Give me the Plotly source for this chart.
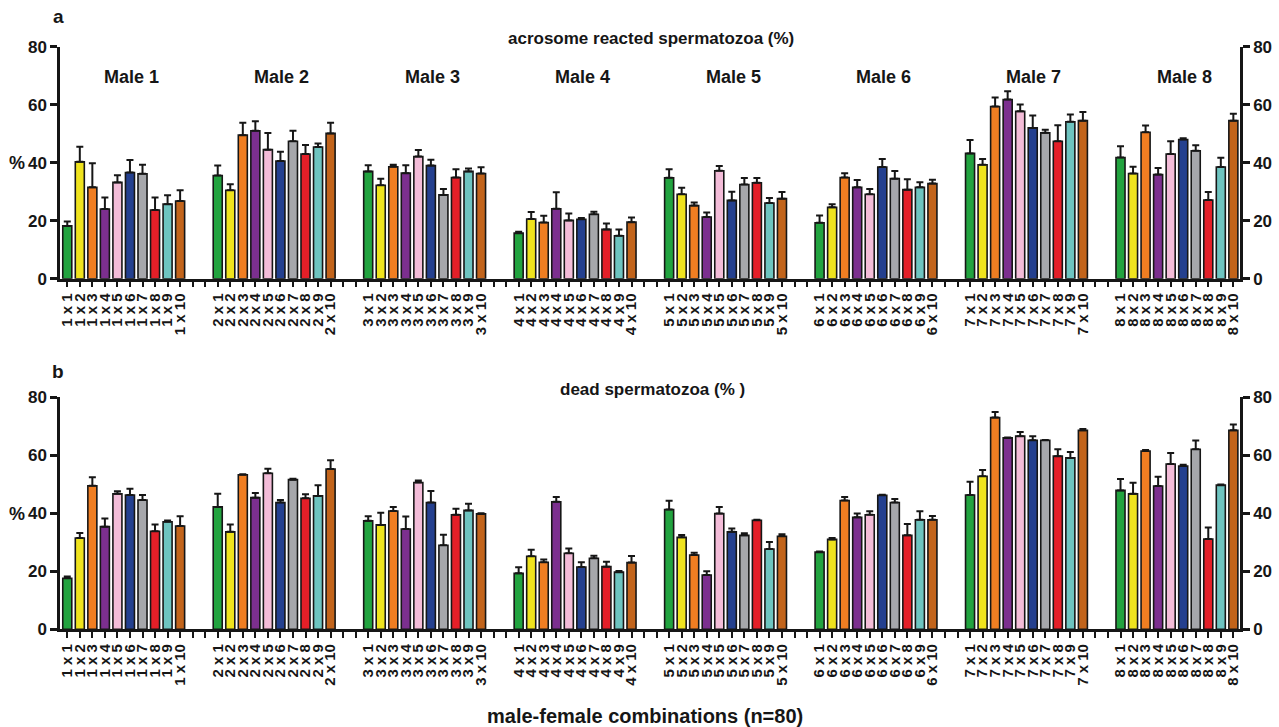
import plotly.graph_objects as go

males = [1, 2, 3, 4, 5, 6, 7, 8]
females = [1, 2, 3, 4, 5, 6, 7, 8, 9, 10]

female_colors = ["#22a33f", "#efe31e", "#f07e22", "#7c2f8f", "#f3bcd8",
                 "#24408f", "#a6a7ab", "#e41f28", "#6ec4c0", "#c2641b"]

# panel a: acrosome reacted spermatozoa (%), rows = males, cols = females
acrosome_mean = [
    [18.2, 40.3, 31.5, 24.0, 33.2, 36.6, 36.2, 23.7, 25.7, 26.8],
    [35.6, 30.5, 49.5, 51.0, 44.5, 40.6, 47.4, 43.0, 45.4, 50.1],
    [37.0, 32.2, 38.6, 36.4, 42.1, 39.0, 28.9, 34.9, 37.0, 36.3],
    [15.7, 20.6, 19.4, 24.1, 20.1, 20.5, 22.2, 17.0, 14.8, 19.5],
    [34.8, 29.1, 25.2, 21.3, 37.2, 27.0, 32.5, 33.1, 26.1, 27.6],
    [19.3, 24.6, 34.9, 31.5, 29.1, 38.5, 34.5, 30.7, 31.5, 32.8],
    [43.2, 39.3, 59.4, 61.8, 57.7, 52.0, 50.3, 47.4, 54.1, 54.5],
    [41.8, 36.3, 50.5, 35.9, 43.0, 48.0, 44.1, 27.1, 38.5, 54.5],
]
acrosome_sem = [
    [1.5, 5.2, 8.3, 4.0, 2.5, 4.3, 3.1, 4.3, 3.1, 3.7],
    [3.4, 2.1, 4.3, 3.3, 5.7, 3.2, 3.6, 3.1, 1.2, 3.7],
    [2.1, 2.3, 0.7, 2.7, 2.3, 2.0, 2.0, 2.8, 1.0, 2.1],
    [0.5, 2.4, 2.3, 5.7, 2.4, 0.4, 0.9, 2.0, 2.2, 1.6],
    [2.9, 2.3, 1.1, 1.5, 1.7, 3.0, 2.2, 1.6, 1.7, 2.3],
    [2.5, 1.1, 1.5, 2.5, 1.8, 2.8, 2.6, 3.6, 1.8, 1.3],
    [4.6, 2.0, 3.1, 2.8, 2.4, 4.3, 1.1, 5.5, 2.5, 3.0],
    [3.9, 2.3, 2.3, 2.3, 4.4, 0.4, 1.9, 2.8, 3.2, 2.4],
]

# panel b: dead spermatozoa (%)
dead_mean = [
    [17.6, 31.5, 49.5, 35.4, 46.7, 46.3, 44.6, 33.8, 37.1, 35.6],
    [42.2, 33.6, 53.3, 45.4, 53.8, 43.7, 51.6, 45.2, 46.0, 55.3],
    [37.4, 36.0, 40.8, 34.6, 50.6, 43.7, 29.0, 39.5, 41.0, 39.8],
    [19.3, 25.2, 23.1, 44.0, 26.2, 21.5, 24.5, 21.6, 19.7, 23.0],
    [41.3, 31.7, 25.6, 18.7, 39.9, 33.6, 32.4, 37.6, 27.7, 32.1],
    [26.6, 31.0, 44.4, 38.6, 39.5, 46.2, 43.7, 32.4, 37.8, 37.8],
    [46.3, 52.8, 73.0, 66.0, 66.6, 65.2, 65.2, 59.7, 59.1, 68.6],
    [47.9, 46.7, 61.5, 49.4, 57.0, 56.3, 62.1, 31.1, 49.7, 68.6],
]
dead_sem = [
    [0.6, 1.7, 2.9, 2.8, 0.9, 2.2, 1.7, 2.3, 0.4, 3.4],
    [4.5, 2.5, 0.2, 1.6, 1.6, 0.9, 0.3, 1.4, 3.7, 3.0],
    [1.6, 4.2, 1.4, 4.3, 0.7, 4.0, 3.6, 2.1, 2.3, 0.2],
    [2.1, 2.2, 1.0, 1.6, 1.7, 1.6, 0.9, 1.7, 0.4, 2.3],
    [3.0, 0.8, 0.8, 1.3, 2.3, 1.2, 0.7, 0.2, 2.4, 0.7],
    [0.2, 0.5, 1.2, 1.3, 1.2, 0.2, 1.2, 3.9, 2.9, 1.3],
    [4.6, 2.1, 1.9, 0.1, 1.4, 1.4, 0.1, 2.4, 2.0, 0.5],
    [3.9, 3.8, 0.3, 3.2, 3.8, 0.4, 3.0, 4.0, 0.2, 2.0],
]

y_ticks = [0, 20, 40, 60, 80]
panel_titles = ["acrosome reacted spermatozoa (%)", "dead spermatozoa (% )"]
panel_letters = ["a", "b"]
x_title = "male-female combinations (n=80)"

GROUP = 12  # 10 bars + 2 empty slots per male
FONT = "Liberation Sans, Arial, sans-serif"
INK = "#161616"
W, H = 1279, 727
ML, MR = 60, 39

def pos(m_idx, f_idx):
    return m_idx * GROUP + f_idx

n_slots = len(males) * GROUP - 2
tickvals = list(range(n_slots))
ticktext = []
for s in tickvals:
    m_idx, f_idx = divmod(s, GROUP)
    ticktext.append(f"{males[m_idx]} x {females[f_idx]}" if f_idx < len(females) else "")

fig = go.Figure()

panels = [(acrosome_mean, acrosome_sem, "x", "y"), (dead_mean, dead_sem, "x2", "y2")]
for means, sems, xa, ya in panels:
    for f_idx, f in enumerate(females):
        xs = [pos(m_idx, f_idx) for m_idx in range(len(males))]
        ys = [means[m_idx][f_idx] for m_idx in range(len(males))]
        es = [sems[m_idx][f_idx] for m_idx in range(len(males))]
        fig.add_trace(go.Bar(
            x=xs, y=ys, xaxis=xa, yaxis=ya, width=0.72,
            marker=dict(color=female_colors[f_idx], line=dict(color=INK, width=1.6)),
            error_y=dict(type="data", array=es, arrayminus=[0] * len(es), symmetric=False,
                         color=INK, thickness=2, width=3.5),
            showlegend=False, hoverinfo="skip",
        ))

# invisible traces so that the right-hand axes are drawn
for xa, ya in [("x", "y3"), ("x2", "y4")]:
    fig.add_trace(go.Scatter(x=[0], y=[0], xaxis=xa, yaxis=ya, mode="markers",
                             marker=dict(opacity=0), showlegend=False, hoverinfo="skip"))

xrange = [-0.58, n_slots - 0.47]
dom_a = [1 - 278.7 / H, 1 - 46.7 / H]
dom_b = [1 - 629.3 / H, 1 - 397.3 / H]

def xaxis_cfg(anchor):
    return dict(range=xrange, anchor=anchor, tickmode="array", tickvals=tickvals, ticktext=ticktext,
                tickangle=-90, ticks="outside", ticklen=6, tickwidth=2, tickcolor=INK,
                showline=True, linecolor=INK, linewidth=2.5, showgrid=False, zeroline=False,
                tickfont=dict(family=FONT, size=15, color=INK, weight="bold"), automargin=False)

def yaxis_cfg(domain, anchor, side="left", overlay=None):
    d = dict(domain=domain, range=[0, 80], anchor=anchor, side=side, tickmode="array",
             tickvals=y_ticks, ticks="outside", ticklen=7, tickwidth=2.5, tickcolor=INK,
             showline=True, linecolor=INK, linewidth=2.5, showgrid=False, zeroline=False,
             tickfont=dict(family=FONT, size=17, color=INK, weight="bold"), automargin=False)
    if overlay:
        d["overlaying"] = overlay
    return d

fig.update_layout(
    width=W, height=H,
    margin=dict(l=ML, r=MR, t=0, b=0),
    paper_bgcolor="white", plot_bgcolor="white",
    barmode="overlay",
    xaxis=xaxis_cfg("y"),
    xaxis2=xaxis_cfg("y2"),
    yaxis=yaxis_cfg(dom_a, "x"),
    yaxis2=yaxis_cfg(dom_b, "x2"),
    yaxis3=yaxis_cfg(dom_a, "x", side="right", overlay="y"),
    yaxis4=yaxis_cfg(dom_b, "x2", side="right", overlay="y2"),
)

def px_ann(px, py, text, size):
    return dict(x=(px - ML) / (W - ML - MR), y=1 - py / H, xref="paper", yref="paper",
                xanchor="center", yanchor="middle", text=text, showarrow=False,
                font=dict(family=FONT, size=size, color=INK, weight="bold"))

ann = []
for m_idx, m in enumerate(males):
    ann.append(dict(x=pos(m_idx, 4.5) + 0.6, y=69.4, xref="x", yref="y", text=f"Male {m}",
                    xanchor="center", yanchor="middle", showarrow=False,
                    font=dict(family=FONT, size=18, color=INK, weight="bold")))
ann.append(px_ann(651, 38, panel_titles[0], 17))
ann.append(px_ann(652, 389, panel_titles[1], 17))
ann.append(px_ann(58, 16, panel_letters[0], 19))
ann.append(px_ann(58, 371, panel_letters[1], 19))
ann.append(px_ann(17, 163, "%", 18))
ann.append(px_ann(17, 514, "%", 18))
ann.append(px_ann(645, 716, x_title, 20))
fig.update_layout(annotations=ann)

fig.write_html("out.html", config={"displayModeBar": False},
               post_script="document.body.style.margin='0';document.body.style.overflow='hidden';")
